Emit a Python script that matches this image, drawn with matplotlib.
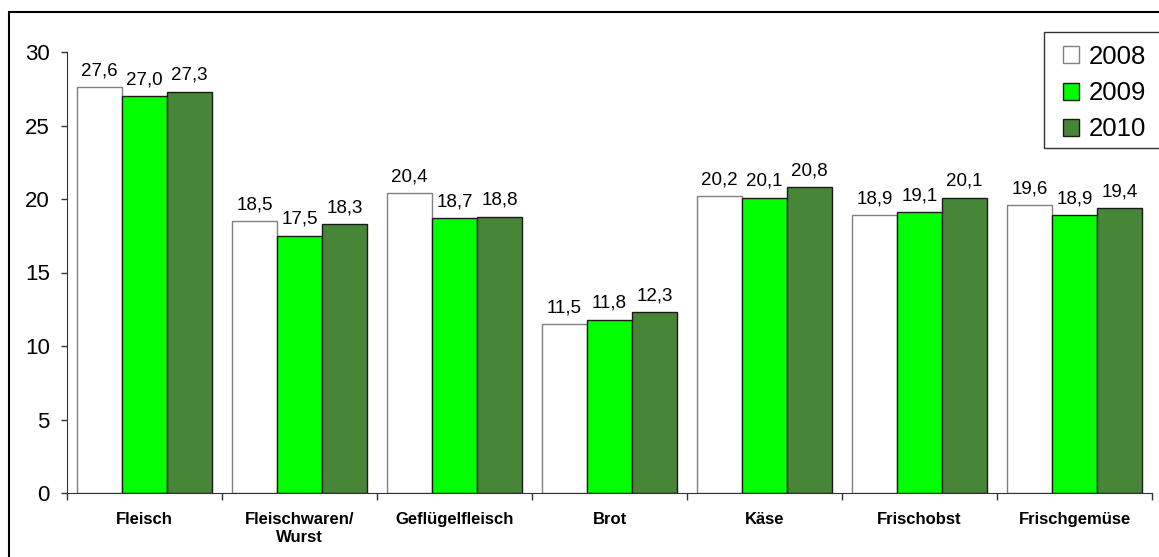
import numpy as np
import matplotlib.pyplot as plt
from matplotlib.patches import Rectangle

plt.rcParams['font.family'] = ['Liberation Sans', 'DejaVu Sans']

categories = ["Fleisch", "Fleischwaren/\nWurst", "Geflügelfleisch", "Brot",
              "Käse", "Frischobst", "Frischgemüse"]
years = ["2008", "2009", "2010"]
v2008 = [27.6, 18.5, 20.4, 11.5, 20.2, 18.9, 19.6]
v2009 = [27.0, 17.5, 18.7, 11.8, 20.1, 19.1, 18.9]
v2010 = [27.3, 18.3, 18.8, 12.3, 20.8, 20.1, 19.4]

colors = ["#ffffff", "#00ff00", "#478537"]
edges = ["#808080", "#1a1a1a", "#1a1a1a"]

W, H = 1159, 557
fig = plt.figure(figsize=(W / 100, H / 100), dpi=100)
ax = fig.add_axes([67 / W, 1 - 493 / H, 1085 / W, 441 / H])

# outer frame
fig.patches.append(Rectangle((9 / W, -0.1), 1.2, 1.1 - 12 / H,
                             transform=fig.transFigure, fill=False,
                             edgecolor="black", linewidth=1.5, zorder=0))

x = np.arange(len(categories)) + 0.5
w = 0.29
for i, (vals, c, ec, lab) in enumerate(zip([v2008, v2009, v2010], colors, edges, years)):
    pos = x + (i - 1) * w
    ax.bar(pos, vals, width=w, color=c, edgecolor=ec, linewidth=1, label=lab)
    for xp, v in zip(pos, vals):
        ax.text(xp, v + 0.8, f"{v:.1f}".replace(".", ","), ha="center",
                va="baseline", fontsize=13.5)

ax.set_xlim(0, 7)
ax.set_ylim(0, 30)
ax.set_yticks(np.arange(0, 31, 5))
ax.tick_params(axis="y", labelsize=16, length=4.5, width=1, color="#333333", pad=8)
ax.set_xticks(np.arange(0, 8))
ax.set_xticklabels([])
ax.tick_params(axis="x", which="major", length=5, width=1, color="#333333")
ax.set_xticks(x, minor=True)
ax.set_xticklabels(categories, minor=True, fontsize=12, fontweight="bold")
ax.tick_params(axis="x", which="minor", length=0, pad=14)
for s in ["top", "right"]:
    ax.spines[s].set_visible(False)
for s in ["left", "bottom"]:
    ax.spines[s].set_color("#333333")

# legend box runs off the right edge
ax.add_patch(Rectangle((1044 / W, 1 - 148 / H), 0.2, 116 / H,
                       transform=fig.transFigure, fill=True, clip_on=False,
                       facecolor="white", edgecolor="#333333",
                       linewidth=1, zorder=3))
leg = ax.legend(loc="upper left", bbox_to_anchor=(1063 / W, 1 - 45 / H),
                bbox_transform=fig.transFigure, fontsize=18.5, frameon=False,
                handlelength=0.64, handleheight=0.64, handletextpad=0.38,
                borderpad=0, labelspacing=0.47, borderaxespad=0)
leg.set_zorder(5)

fig.savefig("out.png", dpi=100)
